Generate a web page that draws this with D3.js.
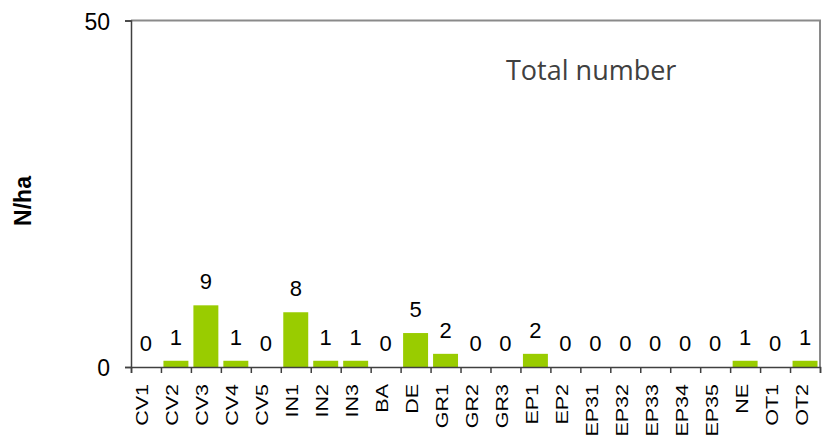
<!DOCTYPE html>
<html lang="en">
<head>
    <meta charset="UTF-8">
    <title>Total number</title>
    <script src="https://d3js.org/d3.v7.min.js"></script>
</head>
<style>
    body { margin: 0; background: #fff; }
    .axis text { font-family: Arial, "Liberation Sans", sans-serif; fill: #000; }
    .axis path, .axis line { fill: none; stroke: #404040; stroke-width: 1.5; }
</style>
<body>
    <svg width="829" height="441"></svg>
</body>
<script>
var categories = ["CV1", "CV2", "CV3", "CV4", "CV5", "IN1", "IN2", "IN3", "BA", "DE", "GR1",
                  "GR2", "GR3", "EP1", "EP2", "EP31", "EP32", "EP33", "EP34", "EP35", "NE", "OT1", "OT2"];
var values = [0, 0.9, 8.9, 0.9, 0, 7.9, 0.9, 0.9, 0, 4.9, 1.9,
              0, 0, 1.9, 0, 0, 0, 0, 0, 0, 0.9, 0, 0.9];
var yTicks = [0, 50];

var plotLeft = 131, plotRight = 820, plotTop = 20.5, plotBottom = 367;

var svg = d3.select("svg");

var x = d3.scaleBand().domain(categories).range([plotLeft, plotRight])
    .paddingInner(0.167).paddingOuter(0.083);
var xIdx = d3.scaleLinear().domain([0, categories.length]).range([plotLeft, plotRight]);
var y = d3.scaleLinear().domain([0, 50]).range([plotBottom, plotTop]);

// plot frame (top / right in grey)
svg.append("path")
   .attr("d", "M" + plotLeft + "," + y(50) + "H" + plotRight + "V" + plotBottom)
   .attr("fill", "none").attr("stroke", "#8a8a8a").attr("stroke-width", 2);

// bars
svg.selectAll("rect.bar")
   .data(values)
   .enter()
   .append("rect")
   .attr("class", "bar")
   .attr("fill", "#99cc00")
   .attr("x", function(d, i) { return x(categories[i]); })
   .attr("width", x.bandwidth())
   .attr("y", function(d) { return y(d); })
   .attr("height", function(d) { return y(0) - y(d); });

// value labels
svg.selectAll("text.val")
   .data(values)
   .enter()
   .append("text")
   .attr("class", "val")
   .attr("x", function(d, i) { return x(categories[i]) + x.bandwidth() / 2; })
   .attr("y", function(d) { return y(d) - 16; })
   .attr("text-anchor", "middle")
   .attr("font-family", "Arial, 'Liberation Sans', sans-serif")
   .attr("font-size", 22)
   .text(function(d) { return d3.format(".0f")(d); });

// y axis
var axisY = d3.axisLeft(y).tickValues(yTicks).tickSize(6).tickPadding(15);
svg.append("g")
   .attr("class", "axis")
   .attr("transform", "translate(" + plotLeft + ",0)")
   .call(axisY)
   .call(function(g) { g.selectAll("text").attr("font-size", 23).attr("dy", "0.38em"); });

// x axis: ticks on category boundaries
var axisX = d3.axisBottom(xIdx).tickValues(d3.range(categories.length + 1)).tickSize(6).tickFormat("");
svg.append("g")
   .attr("class", "axis")
   .attr("transform", "translate(0," + plotBottom + ")")
   .call(axisX);

// category labels, rotated
svg.selectAll("text.cat")
   .data(categories)
   .enter()
   .append("text")
   .attr("class", "cat")
   .attr("transform", function(d) {
       return "translate(" + (x(d) + x.bandwidth() / 2 + 2.5) + ",384) scale(0.78,1) rotate(-90)";
   })
   .attr("text-anchor", "end")
   .attr("font-family", "Arial, 'Liberation Sans', sans-serif")
   .attr("font-size", 21.5)
   .text(function(d) { return d; });

// y axis title
svg.append("text")
   .attr("transform", "translate(31,201) rotate(-90)")
   .attr("text-anchor", "middle")
   .attr("font-family", "Arial, 'Liberation Sans', sans-serif")
   .attr("font-weight", "bold")
   .attr("font-size", 23)
   .text("N/ha");

// chart label
svg.append("text")
   .attr("x", 506)
   .attr("y", 80)
   .attr("font-family", "'Open Sans', sans-serif")
   .attr("font-size", 27)
   .attr("fill", "#404040")
   .text("Total number");
</script>
</html>
